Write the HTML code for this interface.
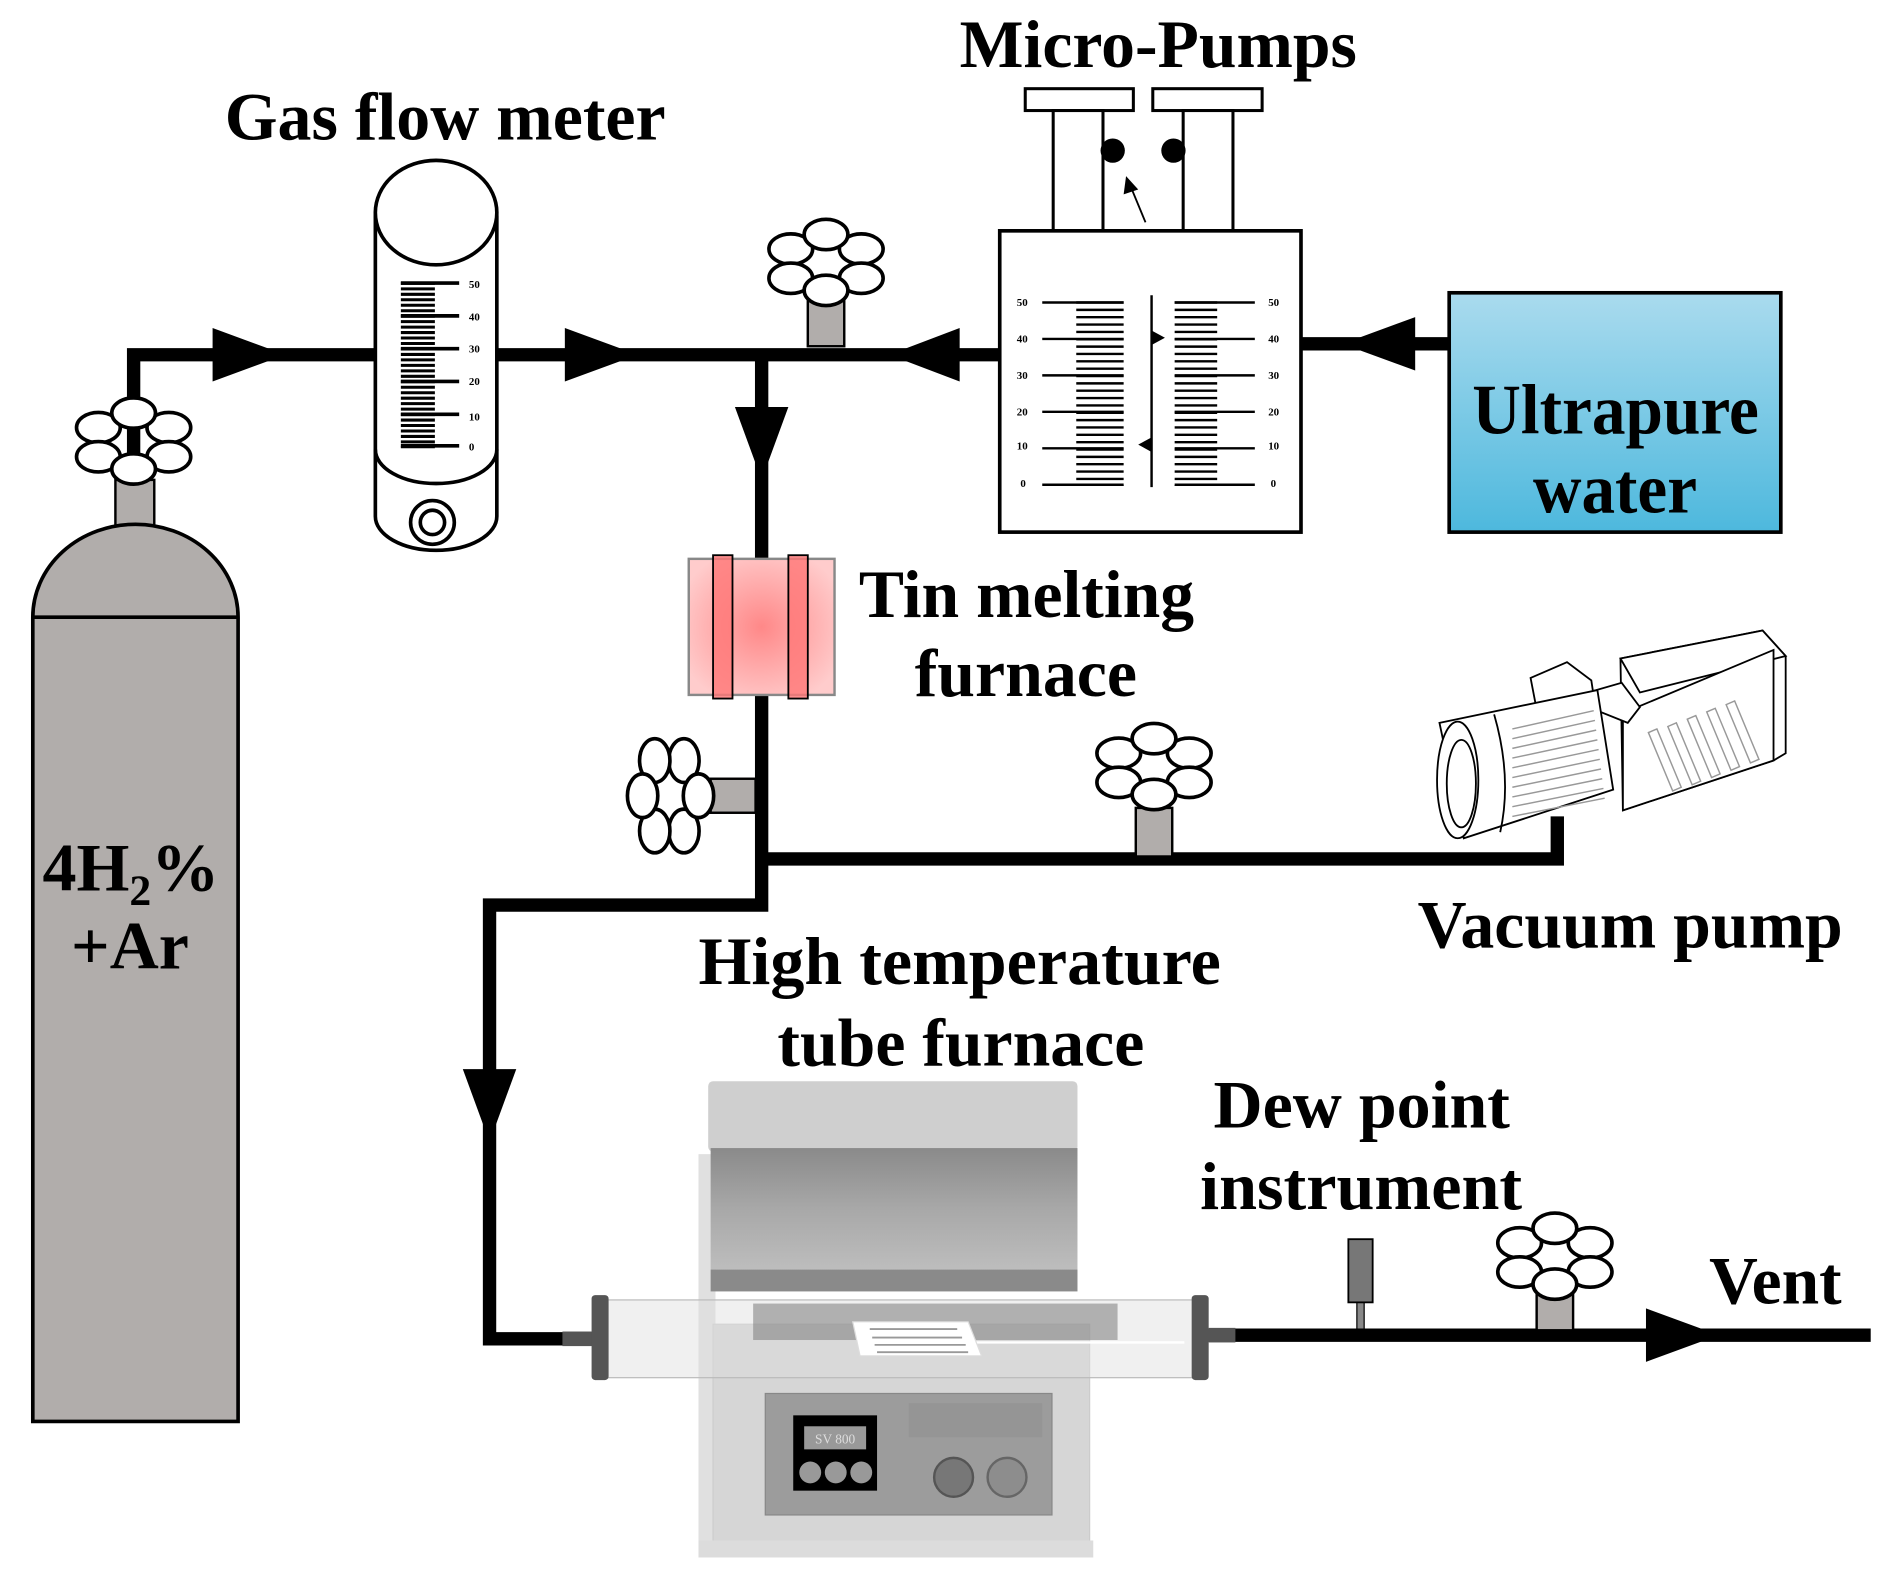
<!DOCTYPE html>
<html><head><meta charset="utf-8"><style>
html,body{margin:0;padding:0;background:#fff;}
svg{display:block;}
text{font-family:"Liberation Serif",serif;font-weight:bold;fill:#000;}
.s{font-weight:normal;font-size:9px;fill:#333;}
</style></head><body>
<svg width="1895" height="1583" viewBox="0 0 1560 1303" preserveAspectRatio="none" xmlns="http://www.w3.org/2000/svg">
<defs>
<g id="fl" stroke="#000" stroke-width="3" fill="#fff">
<ellipse cx="-29" cy="-12" rx="18" ry="12.5"/>
<ellipse cx="29" cy="-12" rx="18" ry="12.5"/>
<ellipse cx="0" cy="-24" rx="18" ry="12.5"/>
<ellipse cx="-29" cy="12" rx="18" ry="12.5"/>
<ellipse cx="29" cy="12" rx="18" ry="12.5"/>
<ellipse cx="0" cy="22" rx="18" ry="12.5"/>
</g>
<linearGradient id="uw" x1="0" y1="0" x2="0" y2="1"><stop offset="0" stop-color="#aadbee"/><stop offset="1" stop-color="#4db8dd"/></linearGradient>
<radialGradient id="tin" cx="0.5" cy="0.5" r="0.6"><stop offset="0" stop-color="#f88"/><stop offset="1" stop-color="#fcc"/></radialGradient>
<linearGradient id="lid" x1="0" y1="0" x2="0" y2="1"><stop offset="0" stop-color="#8a8a8a"/><stop offset="0.5" stop-color="#a8a8a8"/><stop offset="1" stop-color="#bdbdbd"/></linearGradient>
</defs>

<!-- pipes -->
<g stroke="#000" stroke-width="11" fill="none">
<polyline points="110,397 110,292 310,292"/>
<line x1="409" y1="292" x2="824" y2="292"/>
<line x1="1071" y1="283" x2="1193" y2="283"/>
<polyline points="627,292 627,745 403,745 403,1102 490,1102"/>
<polyline points="627,707 1282,707 1282,672"/>
<line x1="995" y1="1099" x2="1540" y2="1099"/>
</g>
<!-- arrows -->
<g fill="#000">
<polygon points="175,270 175,314 235,292"/>
<polygon points="465,270 465,314 525,292"/>
<polygon points="790,270 790,314 732,292"/>
<polygon points="1165,261 1165,305 1105,283"/>
<polygon points="605,335 649,335 627,395"/>
<polygon points="381,880 425,880 403,940"/>
<polygon points="1355,1077 1355,1121 1415,1099"/>
</g>

<!-- cylinder -->
<rect x="95" y="395" width="32" height="40" fill="#b1adab" stroke="#000" stroke-width="2"/>
<path d="M27,508 A84,76 0 0 1 196,508 L196,1170 L27,1170 Z" fill="#b1adab" stroke="#000" stroke-width="3"/>
<line x1="27" y1="508" x2="196" y2="508" stroke="#000" stroke-width="3"/>
<use href="#fl" x="110" y="364"/>
<text x="35" y="733" font-size="56">4H<tspan font-size="36" dy="12">2</tspan><tspan dy="-12">%</tspan></text>
<text x="107" y="797" font-size="56" text-anchor="middle" textLength="97" lengthAdjust="spacingAndGlyphs">+Ar</text>

<!-- flow meter -->
<path d="M309,178 A50,45 0 0 1 409,178 L409,425 A50,28 0 0 1 309,425 Z" fill="#fff" stroke="#000" stroke-width="3"/>
<ellipse cx="359" cy="175" rx="50" ry="43" fill="#fff" stroke="#000" stroke-width="3"/>
<path d="M309,370 A50,28 0 0 0 409,370" fill="none" stroke="#000" stroke-width="3"/>
<circle cx="356" cy="430" r="18" fill="#fff" stroke="#000" stroke-width="3"/>
<circle cx="356" cy="430" r="10" fill="#fff" stroke="#000" stroke-width="3"/>
<line x1="344" y1="232" x2="344" y2="369" stroke="#000" stroke-width="28" stroke-dasharray="2.5 2"/>
<g stroke="#000" stroke-width="3"><line x1="330" y1="233" x2="378" y2="233"/><line x1="330" y1="260" x2="378" y2="260"/><line x1="330" y1="287" x2="378" y2="287"/><line x1="330" y1="314" x2="378" y2="314"/><line x1="330" y1="341" x2="378" y2="341"/><line x1="330" y1="367" x2="378" y2="367"/></g>
<g class="s"><text x="386" y="237">50</text><text x="386" y="264">40</text><text x="386" y="290">30</text><text x="386" y="317">20</text><text x="386" y="346">10</text><text x="386" y="371">0</text></g>
<text x="185" y="115" font-size="56" textLength="363" lengthAdjust="spacingAndGlyphs">Gas flow meter</text>

<!-- valve top -->
<rect x="665" y="245" width="30" height="40" fill="#b1adab" stroke="#000" stroke-width="2"/>
<use href="#fl" x="680" y="217"/>

<!-- micro pumps -->
<rect x="844" y="73" width="89" height="18" fill="#fff" stroke="#000" stroke-width="2.5"/>
<rect x="949" y="73" width="90" height="18" fill="#fff" stroke="#000" stroke-width="2.5"/>
<rect x="867" y="91" width="41" height="99" fill="#fff" stroke="#000" stroke-width="2.5"/>
<rect x="974" y="91" width="41" height="99" fill="#fff" stroke="#000" stroke-width="2.5"/>
<circle cx="916" cy="124" r="10"/><circle cx="966" cy="124" r="10"/>
<line x1="943" y1="183" x2="931" y2="154" stroke="#000" stroke-width="1.5"/>
<polygon points="927,145 925,160 937,156" fill="#000"/>
<rect x="823" y="190" width="248" height="248" fill="#fff" stroke="#000" stroke-width="3"/>
<line x1="905.5" y1="248" x2="905.5" y2="400" stroke="#000" stroke-width="39" stroke-dasharray="2 4.05"/>
<line x1="984.5" y1="248" x2="984.5" y2="400" stroke="#000" stroke-width="35" stroke-dasharray="2 4.05"/>
<g stroke="#000" stroke-width="2"><line x1="858" y1="249" x2="925" y2="249"/><line x1="858" y1="279" x2="925" y2="279"/><line x1="858" y1="309" x2="925" y2="309"/><line x1="858" y1="339" x2="925" y2="339"/><line x1="858" y1="369" x2="925" y2="369"/><line x1="858" y1="399" x2="925" y2="399"/>
<line x1="967" y1="249" x2="1033" y2="249"/><line x1="967" y1="279" x2="1033" y2="279"/><line x1="967" y1="309" x2="1033" y2="309"/><line x1="967" y1="339" x2="1033" y2="339"/><line x1="967" y1="369" x2="1033" y2="369"/><line x1="967" y1="399" x2="1033" y2="399"/>
<line x1="948" y1="243" x2="948" y2="401"/></g>
<polygon points="948,272 948,284 959,278"/>
<polygon points="948,360 948,372 937,366"/>
<g class="s"><text x="837" y="252">50</text><text x="837" y="282">40</text><text x="837" y="312">30</text><text x="837" y="342">20</text><text x="837" y="370">10</text><text x="840" y="401">0</text>
<text x="1044" y="252">50</text><text x="1044" y="282">40</text><text x="1044" y="312">30</text><text x="1044" y="342">20</text><text x="1044" y="370">10</text><text x="1046" y="401">0</text></g>
<text x="790" y="55" font-size="56" textLength="327" lengthAdjust="spacingAndGlyphs">Micro-Pumps</text>

<!-- ultrapure -->
<rect x="1193" y="241" width="273" height="197" fill="url(#uw)" stroke="#000" stroke-width="3"/>
<text x="1212" y="357" font-size="58" textLength="236" lengthAdjust="spacingAndGlyphs">Ultrapure</text>
<text x="1262" y="422" font-size="58" textLength="135" lengthAdjust="spacingAndGlyphs">water</text>

<!-- tin furnace -->
<rect x="567" y="460" width="120" height="112" fill="url(#tin)" stroke="#888" stroke-width="2"/>
<rect x="587" y="457" width="16" height="118" fill="#f77" stroke="#000" stroke-width="1.5" fill-opacity="0.8"/>
<rect x="649" y="457" width="16" height="118" fill="#f77" stroke="#000" stroke-width="1.5" fill-opacity="0.8"/>
<text x="707" y="508" font-size="56" textLength="276" lengthAdjust="spacingAndGlyphs">Tin melting</text>
<text x="753" y="573" font-size="56" textLength="183" lengthAdjust="spacingAndGlyphs">furnace</text>

<!-- side valves -->
<rect x="585" y="641" width="37" height="28" fill="#b1adab" stroke="#000" stroke-width="2"/>
<g transform="translate(551,655) rotate(90)"><use href="#fl"/></g>
<rect x="935" y="665" width="30" height="40" fill="#b1adab" stroke="#000" stroke-width="2"/>
<use href="#fl" x="950" y="632"/>

<!-- vacuum pump -->
<g fill="#fff" stroke="#000" stroke-width="1.5">
<polygon points="1334,542 1451,519 1470,540 1470,620 1460,626 1336,667"/>
<polygon points="1334,542 1451,519 1470,540 1350,570"/>
<polygon points="1336,587 1460,535 1460,626 1336,667"/>
<polygon points="1260,558 1290,545 1310,560 1316,600 1270,610"/>
<polygon points="1290,575 1335,562 1350,582 1340,595"/>
<polygon points="1185,595 1315,568 1328,650 1205,690"/>
<ellipse cx="1200" cy="642" rx="17" ry="48"/>
<ellipse cx="1203" cy="645" rx="12" ry="36"/>
<path d="M1230,588 Q1245,640 1235,685" fill="none"/>
</g>
<g stroke="#999" stroke-width="1.2">
<line x1="1245" y1="600" x2="1312" y2="585"/><line x1="1245" y1="608" x2="1313" y2="593"/><line x1="1245" y1="616" x2="1314" y2="601"/><line x1="1245" y1="624" x2="1315" y2="609"/><line x1="1245" y1="632" x2="1316" y2="617"/><line x1="1245" y1="640" x2="1317" y2="625"/><line x1="1245" y1="648" x2="1318" y2="633"/><line x1="1245" y1="656" x2="1319" y2="641"/><line x1="1245" y1="664" x2="1320" y2="649"/><line x1="1245" y1="672" x2="1321" y2="657"/>
</g>
<g fill="none" stroke="#999" stroke-width="1.2">
<polygon points="1357,603 1364,600 1384,648 1377,651"/><polygon points="1373,598 1380,595 1400,643 1393,646"/><polygon points="1389,592 1396,589 1416,637 1409,640"/><polygon points="1405,586 1412,583 1432,631 1425,634"/><polygon points="1421,580 1428,577 1448,625 1441,628"/>
</g>
<text x="1167" y="780" font-size="56" textLength="350" lengthAdjust="spacingAndGlyphs">Vacuum pump</text>

<!-- tube furnace -->
<text x="575" y="810" font-size="56" textLength="430" lengthAdjust="spacingAndGlyphs">High temperature</text>
<text x="640" y="877" font-size="56" textLength="302" lengthAdjust="spacingAndGlyphs">tube furnace</text>
<rect x="575" y="950" width="14" height="318" fill="#e0e0e0"/>
<rect x="587" y="1090" width="310" height="190" fill="#d6d6d6" stroke="#ccc"/>
<rect x="575" y="1268" width="325" height="14" fill="#dcdcdc"/>
<rect x="583" y="890" width="304" height="58" rx="4" fill="#cfcfcf"/>
<rect x="585" y="945" width="302" height="100" fill="url(#lid)"/>
<rect x="585" y="1045" width="302" height="18" fill="#8a8a8a"/>
<rect x="630" y="1147" width="236" height="100" fill="#9c9c9c" stroke="#888"/>
<rect x="653" y="1165" width="69" height="62" fill="#000"/>
<rect x="662" y="1174" width="51" height="19" fill="#999"/>
<text x="687.5" y="1188" font-size="11" text-anchor="middle" style="font-weight:normal;fill:#ddd">SV 800</text>
<circle cx="667" cy="1212" r="9" fill="#999"/><circle cx="688" cy="1212" r="9" fill="#999"/><circle cx="709" cy="1212" r="9" fill="#999"/>
<rect x="748" y="1155" width="110" height="28" fill="#959595"/>
<circle cx="785" cy="1216" r="16" fill="#777" stroke="#555" stroke-width="2"/>
<circle cx="829" cy="1216" r="16" fill="#8d8d8d" stroke="#666" stroke-width="2"/>
<rect x="490" y="1070" width="500" height="64" fill="#ddd" fill-opacity="0.45" stroke="#bbb"/>
<rect x="620" y="1073" width="300" height="30" fill="#7c7c7c" fill-opacity="0.55"/>
<line x1="800" y1="1105" x2="975" y2="1105" stroke="#fff" stroke-width="2"/>
<rect x="463" y="1096" width="26" height="12" fill="#555"/>
<rect x="995" y="1093" width="22" height="12" fill="#555"/>
<rect x="487" y="1066" width="14" height="70" rx="3" fill="#555"/>
<rect x="981" y="1066" width="14" height="70" rx="3" fill="#555"/>
<polygon points="702,1088 797,1088 808,1116 708,1116" fill="#fff" stroke="#ddd"/>
<g stroke="#999" stroke-width="1.5"><line x1="716" y1="1094" x2="788" y2="1094"/><line x1="718" y1="1101" x2="792" y2="1101"/><line x1="720" y1="1107" x2="795" y2="1107"/><line x1="722" y1="1113" x2="797" y2="1113"/></g>

<!-- dew point -->
<rect x="1117" y="1070" width="6" height="24" fill="#888" stroke="#000" stroke-width="1"/>
<rect x="1110" y="1020" width="20" height="52" fill="#777" stroke="#000" stroke-width="1.5"/>
<text x="999" y="928" font-size="56" textLength="244" lengthAdjust="spacingAndGlyphs">Dew point</text>
<text x="988" y="995" font-size="56" textLength="265" lengthAdjust="spacingAndGlyphs">instrument</text>
<rect x="1265" y="1063" width="30" height="32" fill="#b1adab" stroke="#000" stroke-width="2"/>
<use href="#fl" x="1280" y="1035"/>
<text x="1407" y="1073" font-size="56" textLength="109" lengthAdjust="spacingAndGlyphs">Vent</text>
</svg>
</body></html>
